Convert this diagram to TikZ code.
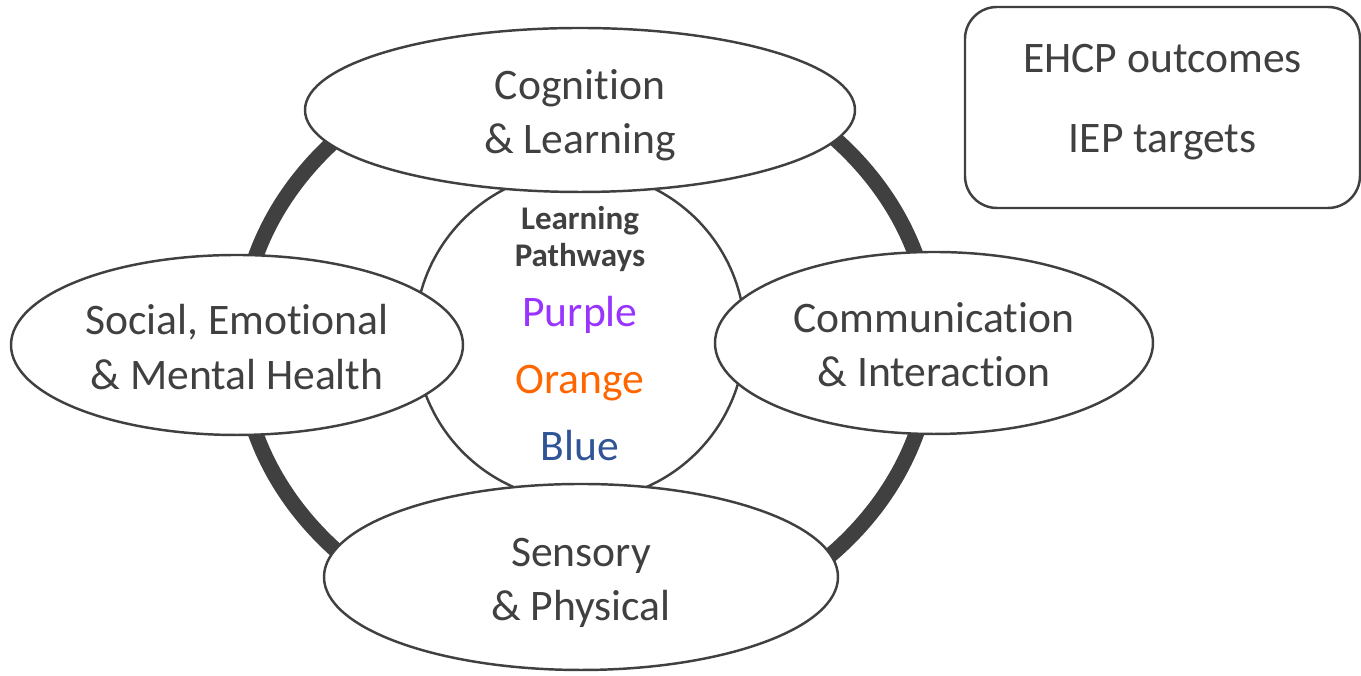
\documentclass[tikz,border=0pt]{standalone}
\usepackage{fontspec}
\setmainfont{Carlito}[Ligatures=NoCommon]
\usepackage{xcolor}
\usepackage{tikz}
\usetikzlibrary{shapes.geometric}

\definecolor{darkgrey}{RGB}{64,64,64}
\definecolor{lppurple}{RGB}{153,51,255}
\definecolor{lporange}{RGB}{255,102,0}
\definecolor{lpblue}{RGB}{47,85,151}

\begin{document}
\begin{tikzpicture}[x=1cm,y=1cm,
    area/.style={ellipse, draw=darkgrey, line width=0.7pt, fill=white, inner sep=0pt},
    areatext/.style={align=center, text=darkgrey, font=\fontsize{12.4}{15.4}\selectfont},
    word/.style={anchor=base, font=\fontsize{12.4}{15.4}\selectfont}]
    \useasboundingbox (0,0) rectangle (13.61,6.76);

    % Draw outer ring
    \coordinate (ringc) at (5.86,3.31);
    \draw[darkgrey, line width=4.4pt] (ringc) ellipse [x radius=3.46, y radius=2.97];

    % Draw pathways circle
    \node[circle, draw=darkgrey, line width=0.7pt, minimum size=3.30cm, inner sep=0pt] (pathways) at (5.80,3.40) {};

    % Draw areas of need
    \node[area, minimum width=5.50cm, minimum height=1.64cm] (cognition) at (5.80,5.66) {};
    \node[area, minimum width=4.52cm, minimum height=1.80cm] (semh) at (2.37,3.31) {};
    \node[area, minimum width=4.38cm, minimum height=1.82cm] (communication) at (9.34,3.33) {};
    \node[area, minimum width=5.14cm, minimum height=1.86cm] (sensory) at (5.81,0.99) {};

    % Area names
    \node[areatext] (cognitiontext) at ([yshift=-0.05cm]cognition.center) {Cognition\\\& Learning};
    \node[areatext] (semhtext) at ([yshift=-0.02cm]semh.center) {Social, Emotional\\\& Mental Health};
    \node[areatext] (communicationtext) at ([yshift=-0.02cm]communication.center) {Communicat\kern0pt ion\\\& Interact\kern0pt ion};
    \node[areatext] (sensorytext) at ([yshift=-0.06cm]sensory.center) {Sensory\\\& Physical};

    % Draw pathway labels
    \node[font=\bfseries\fontsize{9.4}{10.5}\selectfont, text=darkgrey, align=center] (lptitle) at (5.80,4.37) {Learning\\Pathways};
    \node[word, text=lppurple] (purple) at (5.80,3.49) {Purple};
    \node[word, text=lporange] (orange) at (5.80,2.82) {Orange};
    \node[word, text=lpblue] (blue) at (5.80,2.15) {Blue};

    % Draw targets box
    \node[draw=darkgrey, line width=0.7pt, rounded corners=0.32cm, minimum width=3.95cm, minimum height=2.01cm,
        align=center, text=darkgrey, font=\fontsize{12.4}{15.4}\selectfont,
        execute at end node={\rule[-5.3pt]{0pt}{0pt}}] (targets) at (11.625,5.685) {EHCP outcomes\\[7.4pt]IEP targets};
\end{tikzpicture}
\end{document}
